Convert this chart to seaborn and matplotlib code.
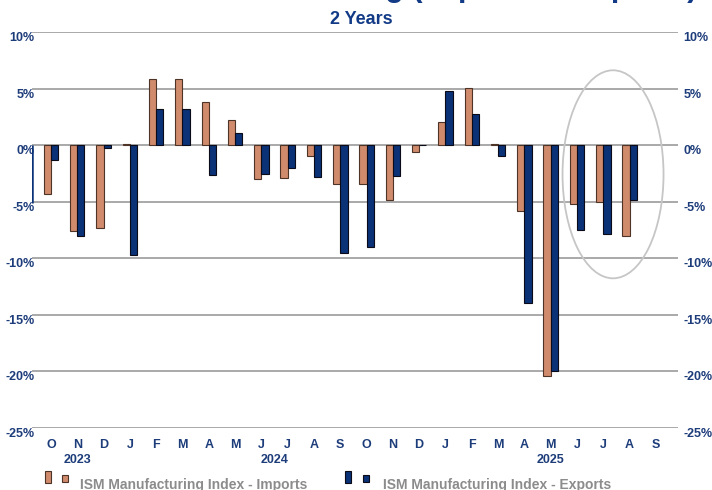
import numpy as np
import pandas as pd
import matplotlib
matplotlib.use("Agg")
import matplotlib.pyplot as plt
from matplotlib.patches import Ellipse, Rectangle
import seaborn as sns

months = ['O', 'N', 'D', 'J', 'F', 'M', 'A', 'M', 'J', 'J', 'A', 'S',
          'O', 'N', 'D', 'J', 'F', 'M', 'A', 'M', 'J', 'J', 'A', 'S']
years = [2023] * 3 + [2024] * 12 + [2025] * 9
imports = [-4.3, -7.6, -7.3, 0.1, 5.9, 5.9, 3.8, 2.2, -3.0, -2.9, -0.9, -3.4,
           -3.4, -4.8, -0.6, 2.1, 5.1, 0.1, -5.8, -20.4, -5.2, -5.0, -8.0, np.nan]
exports = [-1.3, -8.0, -0.2, -9.7, 3.2, 3.2, -2.6, 1.1, -2.5, -2.0, -2.8, -9.5,
           -9.0, -2.7, 0.0, 4.8, 2.8, -0.9, -13.9, -20.0, -7.5, -7.8, -4.8, np.nan]
# Sep 2023 exports bar, mostly clipped off the left edge of the chart
prior_exports = -5.1
series_names = ['ISM Manufacturing Index - Imports', 'ISM Manufacturing Index - Exports']

imp_color = '#D08A6C'
exp_color = '#0B3277'
imp_edge = '#4e3426'
exp_edge = '#0a0a18'
navy = '#1D3C7A'
title_navy = '#123A86'

sns.set_style('white')
plt.rcParams['font.family'] = ['Liberation Sans Narrow', 'Liberation Sans', 'DejaVu Sans']

n = len(months)
df = pd.DataFrame({
    'pos': list(range(n)) * 2,
    'value': imports + exports,
    'series': [series_names[0]] * n + [series_names[1]] * n,
})

W, H = 712, 490
fig = plt.figure(figsize=(W / 100, H / 100), dpi=100)
ax = fig.add_axes([32 / W, 1 - 428 / H, (678 - 32) / W, (428 - 32.3) / H])

sns.barplot(data=df, x='pos', y='value', hue='series', order=list(range(n)),
            hue_order=series_names, palette=[imp_color, exp_color], width=0.55,
            saturation=1, errorbar=None, legend=False, ax=ax)
for cont, ec in zip(ax.containers, [imp_edge, exp_edge]):
    for bar in cont:
        bar.set_edgecolor(ec)
        bar.set_linewidth(0.8)

xmin, xmax = -0.72, 23.84
ax.set_xlim(xmin, xmax)
ax.set_ylim(-25, 10)
ax.vlines(xmin, prior_exports, 0, color=exp_color, lw=1.8, zorder=3)

yt = list(range(-25, 11, 5))
ax.set_yticks(yt)
ax.set_yticklabels([f'{v}%' for v in yt], fontweight='bold', color=navy, fontsize=9, va='top')
ax.tick_params(axis='y', length=0, pad=-2)
ax.yaxis.grid(True, color='#a3a3a3', lw=1.3)
ax.set_axisbelow(True)
for s in ax.spines.values():
    s.set_visible(False)

ax.set_xticks(range(n))
ax.set_xticklabels(months, fontweight='bold', color=navy, fontsize=9)
ax.tick_params(axis='x', length=0, pad=8)
ax.set_xlabel('')
ax.set_ylabel('')

for yr in sorted(set(years)):
    idx = [i for i, y in enumerate(years) if y == yr]
    ax.text(np.mean(idx), -0.081, str(yr), transform=ax.get_xaxis_transform(),
            ha='center', va='center', fontsize=9, fontweight='bold', color=navy)

ax2 = ax.twinx()
ax2.set_ylim(-25, 10)
ax2.set_yticks(yt)
ax2.set_yticklabels([f'{v}%' for v in yt], fontweight='bold', color=navy, fontsize=9, va='top')
ax2.tick_params(axis='y', length=0, pad=4)
for s in ax2.spines.values():
    s.set_visible(False)

# highlight the last three months
ax.add_patch(Ellipse((21.37, -2.56), 3.84, 18.4, fill=False, ec='#c6c6c6', lw=1.3, zorder=4))

fig.text(0.507, 1 - 20 / H, '2 Years', ha='center', va='center', fontsize=13,
         fontweight='bold', color=title_navy)
fig.text(697 / W, 1 + 4 / H, 'Trade Trend: ISM Manufacturing (Imports & Exports)',
         ha='right', va='baseline', fontsize=22, fontweight='bold', color=title_navy)

# legend
for (x0, x1), color, ec in [((45, 62), imp_color, imp_edge), ((345, 363), exp_color, exp_edge)]:
    fig.add_artist(Rectangle((x0 / W, 1 - 483 / H), 6 / W, 12 / H, transform=fig.transFigure,
                             fc=color, ec=ec, lw=0.8))
    fig.add_artist(Rectangle((x1 / W, 1 - 482 / H), 6 / W, 7 / H, transform=fig.transFigure,
                             fc=color, ec=ec, lw=0.8))
for tx, name in zip([80, 383], series_names):
    fig.text(tx / W, 1.5 / H, name, ha='left', va='baseline', fontsize=10,
             fontweight='bold', color='#8c8c8c')

fig.savefig('out.png', dpi=100)
